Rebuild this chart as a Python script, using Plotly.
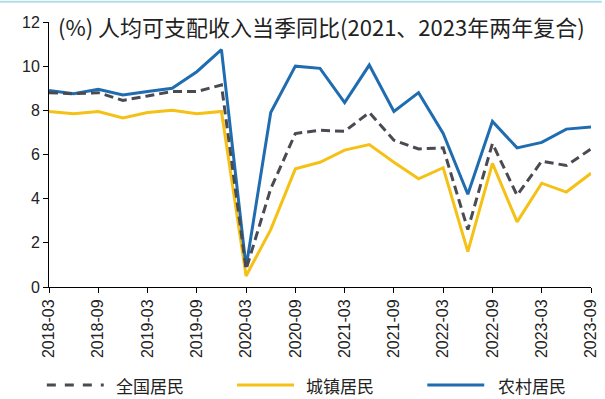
import plotly.graph_objects as go

# Quarter-end labels, 2018-03 .. 2023-09
quarters = [f"{y}-{m}" for y in range(2018, 2024) for m in ("03", "06", "09", "12")][:23]

# Per-capita disposable income, single-quarter YoY (%)
national = [8.8, 8.75, 8.8, 8.45, 8.65, 8.85, 8.85, 9.15, 0.8, 4.45, 6.95, 7.1, 7.05, 7.9,
            6.65, 6.25, 6.3, 2.6, 6.5, 4.15, 5.7, 5.5, 6.25]
urban = [7.95, 7.85, 7.95, 7.65, 7.9, 8.0, 7.85, 7.95, 0.5, 2.6, 5.35, 5.65, 6.2, 6.45,
         5.65, 4.9, 5.4, 1.6, 5.6, 2.95, 4.7, 4.3, 5.15]
rural = [8.9, 8.75, 8.95, 8.7, 8.85, 9.0, 9.75, 10.75, 0.9, 7.9, 10.0, 9.9, 8.35, 10.05,
         7.95, 8.8, 6.95, 4.2, 7.5, 6.3, 6.55, 7.15, 7.25]

names = ["全国居民", "城镇居民", "农村居民"]
colors = {"全国居民": "#4a4a52", "城镇居民": "#f5c116", "农村居民": "#1f6db0"}
dashes = {"全国居民": "9px,5px", "城镇居民": "solid", "农村居民": "solid"}
series = {"全国居民": national, "城镇居民": urban, "农村居民": rural}

tick_labels = quarters[::2]
title_text = "(%) 人均可支配收入当季同比(2021、2023年两年复合)"

fig = go.Figure()
for nm in ["城镇居民", "农村居民", "全国居民"]:
    fig.add_trace(go.Scatter(
        x=quarters, y=series[nm], mode="lines", name=nm, showlegend=False,
        line=dict(color=colors[nm], width=3, dash=dashes[nm]),
    ))

tick_font = dict(family="Liberation Sans, Arial", size=16, color="#222222")

fig.update_layout(
    width=605, height=399,
    margin=dict(l=49, r=6, t=22, b=112),
    paper_bgcolor="white", plot_bgcolor="white",
    xaxis=dict(
        type="category", range=[0, 22], tickmode="array",
        tickvals=tick_labels, ticktext=tick_labels, tickangle=-90,
        showgrid=False, zeroline=False, showline=True, linecolor="#000000", linewidth=1,
        ticks="outside", ticklen=5, tickcolor="#000000", tickfont=tick_font,
    ),
    yaxis=dict(
        range=[0, 12], tickvals=[0, 2, 4, 6, 8, 10, 12],
        showgrid=False, zeroline=False, showline=True, linecolor="#000000", linewidth=1,
        ticks="outside", ticklen=5, tickcolor="#000000", tickfont=tick_font,
    ),
)

# Chart title inside the plot area, top left
fig.add_annotation(
    text=title_text, xref="paper", yref="paper", x=0.012, y=0.985,
    xanchor="left", yanchor="middle", showarrow=False,
    font=dict(family="Noto Sans CJK SC", size=22, color="#222222"),
)

# Legend row along the bottom
leg_y = -0.37
leg_items = [("全国居民", -0.004, 0.112), ("城镇居民", 0.347, 0.462), ("农村居民", 0.698, 0.816)]
for nm, x0, tx in leg_items:
    fig.add_shape(
        type="line", xref="paper", yref="paper", x0=x0, x1=x0 + 0.105, y0=leg_y, y1=leg_y,
        line=dict(color=colors[nm], width=3, dash="dash" if dashes[nm] != "solid" else "solid"),
    )
    fig.add_annotation(
        text=nm, xref="paper", yref="paper", x=tx + 0.008, y=leg_y,
        xanchor="left", yanchor="middle", showarrow=False,
        font=dict(family="Noto Sans CJK SC", size=17, color="#222222"),
    )

# Thin frame accent at the top edge
fig.add_shape(type="line", xref="paper", yref="paper", x0=-0.1, x1=1.02, y0=1.076, y1=1.076,
              line=dict(color="#b5dde6", width=2))

fig.write_html("out.html")
